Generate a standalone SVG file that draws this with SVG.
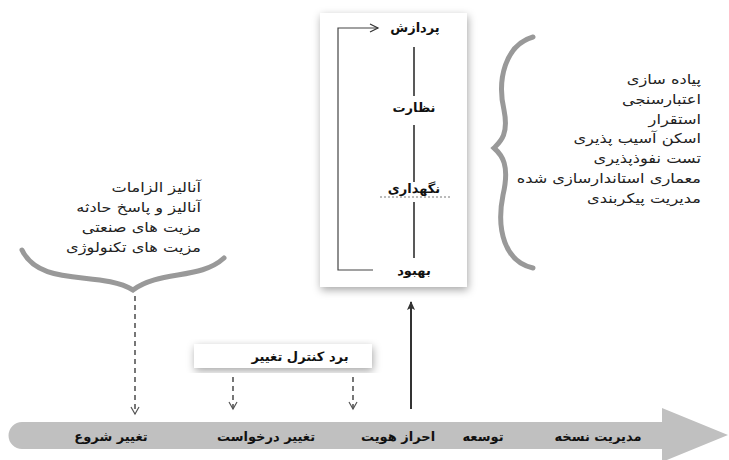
<svg xmlns="http://www.w3.org/2000/svg" width="729" height="460" viewBox="0 0 729 460">
<defs>
<filter id="sh" x="-20%" y="-20%" width="140%" height="140%">
<feDropShadow dx="1" dy="3" stdDeviation="4" flood-color="#000" flood-opacity="0.35"/>
</filter>
<marker id="open" markerWidth="10" markerHeight="10" refX="8" refY="5" orient="auto" markerUnits="userSpaceOnUse">
<path d="M1,1 L8,5 L1,9" fill="none" stroke="#555" stroke-width="1.2"/>
</marker>
<marker id="openk" markerWidth="12" markerHeight="10" refX="9" refY="5" orient="auto" markerUnits="userSpaceOnUse">
<path d="M1,1 L9,5 L1,9" fill="none" stroke="#333" stroke-width="1.2"/>
</marker>
<marker id="solid" markerWidth="10" markerHeight="12" refX="8" refY="5" orient="auto" markerUnits="userSpaceOnUse">
<path d="M0,1 L9,5 L0,9 L2,5 Z" fill="#333"/>
</marker>
</defs>
<style>
text{font-family:"DejaVu Sans","Noto Sans",sans-serif;fill:#111}
.b{font-weight:bold;font-size:13px}
.l{font-size:13.5px;fill:#222}
.brace{fill:none;stroke:#999;stroke-width:5;stroke-linecap:round}
.dash{stroke:#555;stroke-width:1.6;stroke-dasharray:5,4;fill:none}
</style>
<rect width="729" height="460" fill="#fff"/>

<g id="band">
<path d="M22,422 L662,422 L662,408 L728,435 L662,462 L662,449 L22,449 A13.5,13.5 0 0 1 22,422 Z" fill="#c0c0c0"/>
<text class="b" x="111" y="441" text-anchor="middle">تغییر شروع</text>
<text class="b" x="266" y="441" text-anchor="middle">تغییر درخواست</text>
<text class="b" x="398" y="441" text-anchor="middle">احراز هویت</text>
<text class="b" x="483" y="441" text-anchor="middle">توسعه</text>
<text class="b" x="598" y="441" text-anchor="middle">مدیریت نسخه</text>
</g>

<g id="lifecycle">
<rect x="320" y="13" width="147" height="274" fill="#fff" filter="url(#sh)"/>
<text class="b" x="415" y="32" text-anchor="middle">پردازش</text>
<text class="b" x="414" y="112" text-anchor="middle">نظارت</text>
<text class="b" x="414" y="193" text-anchor="middle">نگهداری</text>
<line x1="380" y1="197" x2="450" y2="197" stroke="#777" stroke-width="1" stroke-dasharray="2,2"/>
<text class="b" x="414" y="275" text-anchor="middle">بهبود</text>
</g>

<g id="control-board">
<rect x="194" y="344" width="178" height="24" fill="#fff" filter="url(#sh)"/>
<text class="b" x="300" y="361" text-anchor="middle">برد کنترل تغییر</text>
</g>

<g id="left-list">
<path class="brace" d="M22,250 C40,288 100,270 133,290 C160,270 200,280 224,258"/>
<g transform="translate(201,0) scale(1.2,1)">
<text class="l" x="0" y="192" text-anchor="end">آنالیز الزامات</text>
<text class="l" x="0" y="212" text-anchor="end">آنالیز و پاسخ حادثه</text>
<text class="l" x="0" y="232" text-anchor="end">مزیت های صنعتی</text>
<text class="l" x="0" y="252" text-anchor="end">مزیت های تکنولوژی</text>
</g>
</g>

<g id="right-list">
<path class="brace" d="M533,37 C505,45 497,80 504,110 C509,135 500,142 494,148 C502,155 510,165 503,195 C496,230 505,262 533,268"/>
<g transform="translate(701,0) scale(1.2,1)">
<text class="l" x="0" y="84" text-anchor="end">پیاده سازی</text>
<text class="l" x="0" y="104" text-anchor="end">اعتبارسنجی</text>
<text class="l" x="0" y="124" text-anchor="end">استقرار</text>
<text class="l" x="0" y="143" text-anchor="end">اسکن آسیب پذیری</text>
<text class="l" x="0" y="163" text-anchor="end">تست نفوذپذیری</text>
<text class="l" x="0" y="183" text-anchor="end">معماری استاندارسازی شده</text>
<text class="l" x="0" y="203" text-anchor="end">مدیریت پیکربندی</text>
</g>
</g>

<g id="connectors">
<polyline points="373,270 338,270 338,28 378,28" fill="none" stroke="#444" stroke-width="1.2" marker-end="url(#openk)"/>
<line x1="414" y1="47" x2="414" y2="96" stroke="#222" stroke-width="1.5"/>
<line x1="414" y1="125" x2="414" y2="182" stroke="#222" stroke-width="1.5"/>
<line x1="414" y1="202" x2="414" y2="258" stroke="#222" stroke-width="1.5"/>
<line class="dash" x1="135" y1="296" x2="135" y2="414" marker-end="url(#open)"/>
<line class="dash" x1="233" y1="377" x2="233" y2="409" marker-end="url(#open)"/>
<line class="dash" x1="353" y1="377" x2="353" y2="409" marker-end="url(#open)"/>
<line x1="411" y1="409" x2="411" y2="302" stroke="#333" stroke-width="2" marker-end="url(#solid)"/>
</g>
</svg>
